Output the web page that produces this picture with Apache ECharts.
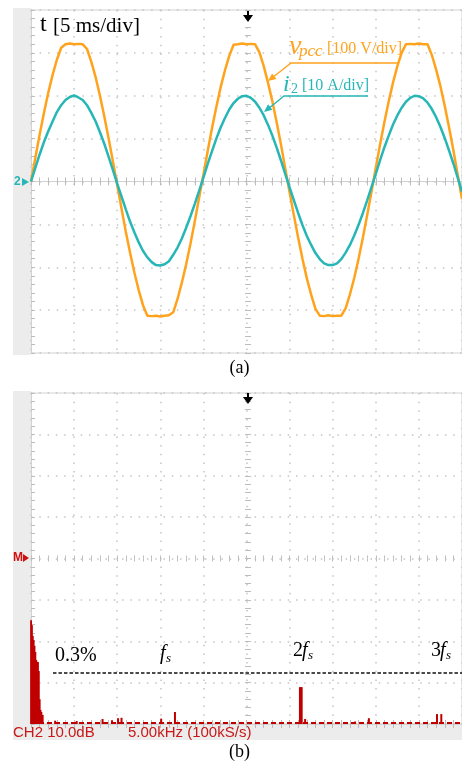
<!DOCTYPE html>
<html><head><meta charset="utf-8">
<script src="https://cdn.jsdelivr.net/npm/echarts@6/dist/echarts.min.js"></script>
<style>html,body{margin:0;padding:0;background:#fff;}#c{width:462px;height:765px;}</style>
</head><body><div id="c"></div>
<script>
// ---- data ----
const timeMs = [0,0.5,1,1.5,2,2.5,3,3.5,4,4.5,5,5.5,6,6.5,7,7.5,8,8.5,9,9.5,
 10,10.5,11,11.5,12,12.5,13,13.5,14,14.5,15,15.5,16,16.5,17,17.5,18,18.5,19,19.5,
 20,20.5,21,21.5,22,22.5,23,23.5,24,24.5,25,25.5,26,26.5,27,27.5,28,28.5,29,29.5,
 30,30.5,31,31.5,32,32.5,33,33.5,34,34.5,35,35.5,36,36.5,37,37.5,38,38.5,39,39.5,
 40,40.5,41,41.5,42,42.5,43,43.5,44,44.5,45,45.5,46,46.5,47,47.5,48,48.5,49,49.5,50];
// v_pcc in divisions (100 V/div)
const vpccDiv = [0.00,0.55,1.09,1.60,2.07,2.48,2.84,3.12,3.20,3.22,3.20,3.21,3.20,3.09,2.79,2.43,2.00,1.52,1.01,0.47,
 -0.08,-0.63,-1.17,-1.67,-2.13,-2.54,-2.89,-3.13,-3.14,-3.13,-3.15,-3.13,-3.12,-3.05,-2.74,-2.36,-1.93,-1.45,-0.93,-0.38,
 0.16,0.71,1.25,1.74,2.20,2.59,2.93,3.19,3.20,3.22,3.20,3.21,3.20,3.01,2.69,2.30,1.87,1.38,0.86,0.30,
 -0.25,-0.79,-1.32,-1.81,-2.26,-2.64,-2.97,-3.13,-3.14,-3.12,-3.14,-3.13,-3.13,-2.96,-2.63,-2.25,-1.80,-1.31,-0.78,-0.24,
 0.32,0.87,1.39,1.87,2.31,2.69,3.00,3.20,3.21,3.20,3.22,3.20,3.20,2.95,2.61,2.22,1.76,1.26,0.73,0.16,
 -0.41];
// i_2 in divisions (10 A/div)
const i2Div = [0.00,0.32,0.63,0.92,1.17,1.40,1.62,1.78,1.90,1.97,2.01,1.96,1.90,1.78,1.60,1.40,1.15,0.88,0.58,0.27,
 -0.05,-0.35,-0.65,-0.94,-1.19,-1.42,-1.62,-1.77,-1.88,-1.95,-1.96,-1.93,-1.86,-1.71,-1.54,-1.33,-1.08,-0.81,-0.52,-0.22,
 0.09,0.41,0.71,1.00,1.26,1.48,1.68,1.83,1.93,1.99,2.00,1.95,1.86,1.72,1.54,1.32,1.07,0.79,0.49,0.17,
 -0.14,-0.44,-0.74,-1.02,-1.27,-1.48,-1.67,-1.81,-1.91,-1.95,-1.95,-1.91,-1.81,-1.66,-1.48,-1.26,-1.01,-0.74,-0.44,-0.13,
 0.18,0.50,0.80,1.07,1.33,1.54,1.72,1.86,1.95,2.00,1.99,1.94,1.84,1.69,1.50,1.27,1.01,0.72,0.42,0.09,
 -0.24];
// spectrum (kHz, dB above screen bottom; 10 dB/div)
const specFreqKHz = [0.0,0.1,0.2,0.3,0.4,0.5,0.6,0.7,0.8,0.9,1.0,1.1,1.2,1.35,
 2.8,5.3,8.3,9.4,10.1,10.5,15.1,16.7,31.2,31.3,31.4,31.8,37.6,39.2,47.1,47.6];
const specLevelDb = [25.1,23.9,21.3,20.3,18.9,17.4,15.5,13.6,15.0,12.8,6.0,3.4,2.9,2.2,
 0.8,0.7,1.2,0.9,1.4,1.5,1.3,2.9,8.9,8.9,8.9,1.2,0.6,1.4,2.4,2.4];
const floorFreqKHz = [0, 50];
const floorLevelDb = [0.25, 0.25];
const limitFreqKHz = [2.55, 50];
const limitLevelDb = [12.3, 12.3];

const ORANGE = '#FFA31C', CYAN = '#26B6B6', RED = '#C00000', GRIDC = '#c4c4c4', BORDER = '#d2d2d2';
const zip = (a, b) => a.map((v, i) => [v, b[i]]);

const chart = echarts.init(document.getElementById('c'), null, {renderer: 'canvas'});

const G = [
  {left: 31, top: 10, width: 434, height: 343},
  {left: 31, top: 393, width: 434, height: 331}
];

function xAxes(gi, hDash, halfH) {
  const base = {gridIndex: gi, type: 'value', min: 0, max: 50, interval: 5,
    axisLabel: {show: false}, splitLine: {show: false}};
  const tick = (inside, len) => ({show: true, inside, length: len, lineStyle: {color: '#bdbdbd', width: 1}});
  const minor = (len) => ({show: true, splitNumber: 5, length: len, lineStyle: {color: '#bdbdbd', width: 1}});
  return [
    Object.assign({}, base, {position: 'bottom', axisLine: {show: true, lineStyle: {color: BORDER}},
      axisTick: tick(true, 4), minorTick: minor(4),
      splitLine: {show: true, lineStyle: {color: GRIDC, width: 1.5, type: hDash}}}),
    Object.assign({}, base, {position: 'top', axisLine: {show: true, lineStyle: {color: BORDER}},
      axisTick: tick(true, 4), minorTick: minor(4)}),
    Object.assign({}, base, {position: 'bottom', offset: -halfH, axisLine: {show: false},
      axisTick: tick(true, 3), minorTick: minor(3)}),
    Object.assign({}, base, {position: 'bottom', offset: -halfH, axisLine: {show: false},
      axisTick: tick(false, 3), minorTick: minor(3)})
  ];
}
function yAxes(gi, min, max, interval, vDash, halfW) {
  const base = {gridIndex: gi, type: 'value', min, max, interval,
    axisLabel: {show: false}, splitLine: {show: false}};
  const tick = (inside, len) => ({show: true, inside, length: len, lineStyle: {color: '#bdbdbd', width: 1}});
  const minor = (len) => ({show: true, splitNumber: 5, length: len, lineStyle: {color: '#bdbdbd', width: 1}});
  return [
    Object.assign({}, base, {position: 'left', axisLine: {show: true, lineStyle: {color: BORDER}},
      axisTick: tick(true, 4), minorTick: minor(4),
      splitLine: {show: true, lineStyle: {color: GRIDC, width: 1.5, type: vDash}}}),
    Object.assign({}, base, {position: 'left', offset: -halfW, axisLine: {show: false},
      axisTick: tick(true, 3), minorTick: minor(3)}),
    Object.assign({}, base, {position: 'left', offset: -halfW, axisLine: {show: false},
      axisTick: tick(false, 3), minorTick: minor(3)})
  ];
}

const serif = '"Liberation Serif","Times New Roman",serif';
const sans = '"Liberation Sans",Arial,sans-serif';
function txt(x, y, s, size, color, opts) {
  return Object.assign({type: 'text', x, y, z: 100, style: Object.assign({text: s, fill: color,
    font: size + 'px ' + serif, textVerticalAlign: 'middle'}, opts || {})});
}

const option = {
  animation: false,
  backgroundColor: '#fff',
  grid: G.map(g => Object.assign({show: true, borderColor: BORDER, borderWidth: 1, backgroundColor: 'transparent'}, g)),
  xAxis: [].concat(xAxes(0, [1.5, 7.18], 171.5), xAxes(1, [1.5, 7.18], 165.5)),
  yAxis: [].concat(yAxes(0, -4, 4, 1, [1.5, 7.08], 217), yAxes(1, 0, 80, 10, [1.5, 6.78], 217)),
  series: [
    {name: 'vpcc', type: 'line', xAxisIndex: 0, yAxisIndex: 0, data: zip(timeMs, vpccDiv),
      showSymbol: false, lineStyle: {color: ORANGE, width: 2.5}, z: 3},
    {name: 'i2', type: 'line', xAxisIndex: 0, yAxisIndex: 0, data: zip(timeMs, i2Div),
      showSymbol: false, lineStyle: {color: CYAN, width: 2.5}, z: 4},
    {name: 'floor', type: 'line', xAxisIndex: 4, yAxisIndex: 3, data: zip(floorFreqKHz, floorLevelDb),
      showSymbol: false, lineStyle: {color: RED, width: 2, type: [5, 3]}, z: 3},
    {name: 'spectrum', type: 'bar', xAxisIndex: 4, yAxisIndex: 3, data: zip(specFreqKHz, specLevelDb),
      barWidth: 2, itemStyle: {color: RED}, z: 4},
    {name: 'limit', type: 'line', xAxisIndex: 4, yAxisIndex: 3, data: zip(limitFreqKHz, limitLevelDb),
      showSymbol: false, lineStyle: {color: '#111', width: 1.5, type: [3.5, 2]}, z: 5}
  ],
  graphic: [
    {type: 'rect', shape: {x: 13, y: 8, width: 18, height: 347}, style: {fill: '#ececec'}, z: 0},
    {type: 'rect', shape: {x: 13, y: 391, width: 18, height: 334}, style: {fill: '#ececec'}, z: 0},
    {type: 'rect', shape: {x: 13, y: 725, width: 449, height: 15}, style: {fill: '#ececec'}, z: 0},
    {type: 'text', x: 13, y: 733, z: 100, style: {text: 'CH2 10.0dB', fill: '#C81818', font: '15px ' + sans, textVerticalAlign: 'middle'}},
    {type: 'text', x: 128, y: 733, z: 100, style: {text: '5.00kHz (100kS/s)', fill: '#C81818', font: '15px ' + sans, textVerticalAlign: 'middle'}},
    {type: 'text', x: 14, y: 182, z: 100, style: {text: '2', fill: CYAN, font: 'bold 12px ' + sans, textVerticalAlign: 'middle'}},
    {type: 'polygon', shape: {points: [[22, 178], [22, 186], [29, 182]]}, style: {fill: CYAN}, z: 100},
    {type: 'text', x: 13, y: 558, z: 100, style: {text: 'M', fill: '#D01010', font: 'bold 12px ' + sans, textVerticalAlign: 'middle'}},
    {type: 'polygon', shape: {points: [[23, 554], [23, 562], [29, 558]]}, style: {fill: '#D01010'}, z: 100},
    {type: 'line', shape: {x1: 248, y1: 11, x2: 248, y2: 17}, style: {stroke: '#000', lineWidth: 2}, z: 100},
    {type: 'polygon', shape: {points: [[243, 15], [253, 15], [248, 22]]}, style: {fill: '#000'}, z: 100},
    {type: 'line', shape: {x1: 248, y1: 393, x2: 248, y2: 399}, style: {stroke: '#000', lineWidth: 2}, z: 100},
    {type: 'polygon', shape: {points: [[243, 397], [253, 397], [248, 404]]}, style: {fill: '#000'}, z: 100},
    txt(40, 25, 't', 24, '#000'),
    txt(53, 26, '[5 ms/div]', 21, '#000'),
    txt(289, 47, 'v', 28, ORANGE, {font: 'italic 28px ' + serif}),
    txt(299, 52, 'pcc', 17, ORANGE, {font: 'italic 17px ' + serif}),
    txt(327, 49, '[100 V/div]', 16, ORANGE),
    {type: 'polyline', shape: {points: [[399, 63], [291, 63], [272, 78]]}, style: {stroke: ORANGE, lineWidth: 1.3, fill: null}, z: 100},
    {type: 'polygon', shape: {points: [[268, 81], [276.5, 78.9], [272.1, 73.4]]}, style: {fill: ORANGE}, z: 100},
    txt(283, 85, 'i', 24, CYAN, {font: 'italic 24px ' + serif}),
    txt(291, 89, '2', 14, CYAN),
    txt(302, 86, '[10 A/div]', 16, CYAN),
    {type: 'polyline', shape: {points: [[368, 96], [284, 96], [268, 109]]}, style: {stroke: CYAN, lineWidth: 1.3, fill: null}, z: 100},
    {type: 'polygon', shape: {points: [[264, 112], [272.4, 109.7], [268.1, 104.3]]}, style: {fill: CYAN}, z: 100},
    txt(55, 656, '0.3%', 20, '#000'),
    txt(160, 654, 'f', 20, '#000', {font: 'italic 20px ' + serif}),
    txt(166, 659, 's', 13, '#000', {font: 'italic 13px ' + serif}),
    txt(293, 651, '2', 20, '#000'),
    txt(302, 651, 'f', 20, '#000', {font: 'italic 20px ' + serif}),
    txt(308, 656, 's', 13, '#000', {font: 'italic 13px ' + serif}),
    txt(431, 651, '3', 20, '#000'),
    txt(440, 651, 'f', 20, '#000', {font: 'italic 20px ' + serif}),
    txt(446, 656, 's', 13, '#000', {font: 'italic 13px ' + serif}),
    {type: 'text', x: 239.5, y: 368, z: 100, style: {text: '(a)', fill: '#000', font: '18px ' + serif, textAlign: 'center', textVerticalAlign: 'middle'}},
    {type: 'text', x: 239.5, y: 752, z: 100, style: {text: '(b)', fill: '#000', font: '18px ' + serif, textAlign: 'center', textVerticalAlign: 'middle'}}
  ]
};
chart.setOption(option);
</script>
</body></html>
